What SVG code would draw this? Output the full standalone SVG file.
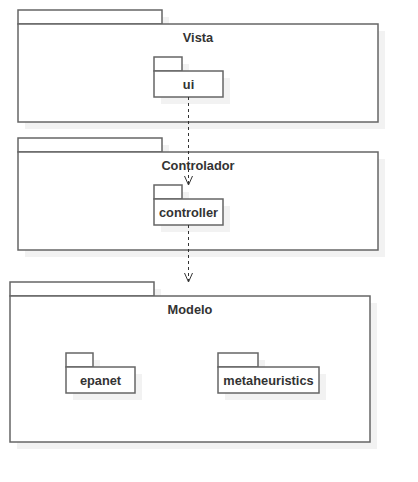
<svg xmlns="http://www.w3.org/2000/svg" width="418" height="482" viewBox="0 0 418 482">
<defs>
<style>
.sh{fill:#f2f2f2;stroke:none}
.pk{fill:#ffffff;stroke:#666666;stroke-width:1.5}
.lb{font-family:"Liberation Sans",Arial,sans-serif;font-size:12.8px;font-weight:bold;fill:#333333;text-anchor:middle}
.cn{fill:none;stroke:#333333;stroke-width:1;stroke-dasharray:3,3}
.ah{fill:none;stroke:#333333;stroke-width:1}
</style>
</defs>
<rect width="418" height="482" fill="#ffffff"/>
<g id="vista">
<rect class="sh" x="25" y="17" width="144" height="14"/>
<rect class="sh" x="25" y="31" width="360" height="98"/>
<rect class="pk" x="18" y="10" width="144" height="14"/>
<rect class="pk" x="18" y="24" width="360" height="98"/>
<text class="lb" x="198" y="42">Vista</text>
</g>
<g id="controlador">
<rect class="sh" x="25" y="145" width="144" height="14"/>
<rect class="sh" x="25" y="159" width="360" height="98"/>
<rect class="pk" x="18" y="138" width="144" height="14"/>
<rect class="pk" x="18" y="152" width="360" height="98"/>
<text class="lb" x="198" y="170">Controlador</text>
</g>
<g id="modelo">
<rect class="sh" x="17" y="289" width="144" height="14"/>
<rect class="sh" x="17" y="303" width="360" height="146"/>
<rect class="pk" x="10" y="282" width="144" height="14"/>
<rect class="pk" x="10" y="296" width="360" height="146"/>
<text class="lb" x="190" y="314">Modelo</text>
</g>
<g id="ui">
<rect class="sh" x="161" y="64" width="28" height="14"/>
<rect class="sh" x="161" y="78" width="69" height="26"/>
<rect class="pk" x="154" y="57" width="28" height="14"/>
<rect class="pk" x="154" y="71" width="69" height="26"/>
<text class="lb" x="188.5" y="89">ui</text>
</g>
<g id="controller">
<rect class="sh" x="161" y="192" width="28" height="14"/>
<rect class="sh" x="161" y="206" width="69" height="26"/>
<rect class="pk" x="154" y="185" width="28" height="14"/>
<rect class="pk" x="154" y="199" width="69" height="26"/>
<text class="lb" x="188.5" y="217">controller</text>
</g>
<g id="epanet">
<rect class="sh" x="73" y="360" width="27" height="14"/>
<rect class="sh" x="73" y="374" width="69" height="26"/>
<rect class="pk" x="66" y="353" width="27" height="14"/>
<rect class="pk" x="66" y="367" width="69" height="26"/>
<text class="lb" x="100.5" y="385">epanet</text>
</g>
<g id="metaheuristics">
<rect class="sh" x="225" y="360" width="40" height="14"/>
<rect class="sh" x="225" y="374" width="101" height="26"/>
<rect class="pk" x="218" y="353" width="40" height="14"/>
<rect class="pk" x="218" y="367" width="101" height="26"/>
<text class="lb" x="268.5" y="385">metaheuristics</text>
</g>
<g id="connectors">
<line class="cn" x1="188.5" y1="97" x2="188.5" y2="184"/>
<polyline class="ah" points="184.5,176 188.5,185 192.5,176"/>
<line class="cn" x1="188.5" y1="225" x2="188.5" y2="281"/>
<polyline class="ah" points="184.5,273 188.5,282 192.5,273"/>
</g>
</svg>
